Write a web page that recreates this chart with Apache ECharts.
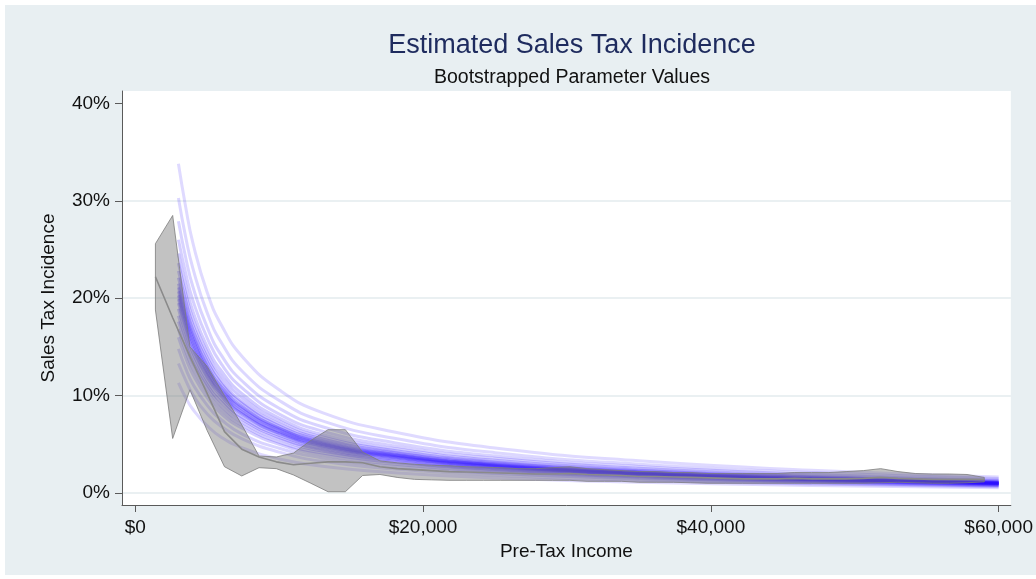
<!DOCTYPE html>
<html>
<head>
<meta charset="utf-8">
<script src="https://cdn.jsdelivr.net/npm/echarts@6/dist/echarts.min.js"></script>
<style>
  html, body { margin: 0; padding: 0; background: #ffffff; }
  #frame { position: absolute; left: 0; top: 0; width: 1036px; height: 579px; background: #ffffff; }
  #chart { position: absolute; left: 5px; top: 5px; width: 1031px; height: 570px; }
</style>
</head>
<body>
<div id="frame"><div id="chart"></div></div>
<script>
// Incomes at which each bootstrapped incidence curve is evaluated
const incomeGrid = [3000, 3500, 4000, 5000, 6000, 7500, 10000, 13000, 18000, 25000, 35000, 47000, 60000];

// One row per bootstrap draw (sorted low to high): sales tax incidence (%) at incomeGrid
const bootstrapDraws = [
  [11.3, 9.8, 8.6, 6.9, 5.7, 4.6, 3.5, 2.75, 2.09, 1.54, 1.10, 0.78, 0.55],
  [13.3, 11.6, 10.1, 8.1, 6.8, 5.5, 4.2, 3.25, 2.47, 1.82, 1.30, 0.92, 0.65],
  [14.8, 12.8, 11.2, 9.0, 7.5, 6.0, 4.6, 3.6, 2.74, 2.02, 1.44, 1.02, 0.72],
  [16.0, 13.9, 12.2, 9.8, 8.1, 6.6, 5.0, 3.9, 2.96, 2.18, 1.56, 1.11, 0.78],
  [16.8, 14.6, 12.8, 10.3, 8.5, 6.9, 5.2, 4.1, 3.12, 2.30, 1.64, 1.16, 0.82],
  [17.6, 15.3, 13.4, 10.8, 8.9, 7.2, 5.5, 4.3, 3.27, 2.41, 1.72, 1.22, 0.86],
  [18.2, 15.8, 13.9, 11.1, 9.3, 7.5, 5.7, 4.45, 3.38, 2.49, 1.78, 1.26, 0.89],
  [18.9, 16.4, 14.4, 11.5, 9.6, 7.7, 5.9, 4.6, 3.50, 2.58, 1.84, 1.31, 0.92],
  [19.5, 16.9, 14.8, 11.9, 9.9, 8.0, 6.1, 4.75, 3.61, 2.66, 1.90, 1.35, 0.95],
  [19.9, 17.3, 15.1, 12.1, 10.1, 8.1, 6.2, 4.85, 3.69, 2.72, 1.94, 1.38, 0.97],
  [20.3, 17.6, 15.4, 12.4, 10.3, 8.3, 6.3, 4.95, 3.76, 2.77, 1.98, 1.41, 0.99],
  [20.7, 18.0, 15.8, 12.6, 10.5, 8.5, 6.5, 5.05, 3.84, 2.83, 2.02, 1.43, 1.01],
  [21.1, 18.3, 16.1, 12.9, 10.7, 8.7, 6.6, 5.15, 3.91, 2.88, 2.06, 1.46, 1.03],
  [21.5, 18.7, 16.4, 13.1, 10.9, 8.8, 6.7, 5.25, 3.99, 2.94, 2.10, 1.49, 1.05],
  [22.1, 19.2, 16.8, 13.5, 11.2, 9.1, 6.9, 5.4, 4.10, 3.02, 2.16, 1.53, 1.08],
  [22.8, 19.8, 17.3, 13.9, 11.5, 9.3, 7.1, 5.55, 4.22, 3.11, 2.22, 1.58, 1.11],
  [23.6, 20.5, 17.9, 14.4, 12.0, 9.7, 7.4, 5.75, 4.37, 3.22, 2.30, 1.63, 1.15],
  [24.6, 21.4, 18.7, 15.0, 12.5, 10.1, 7.7, 6.0, 4.56, 3.36, 2.40, 1.70, 1.20],
  [26.0, 22.6, 19.8, 15.9, 13.2, 10.7, 8.1, 6.35, 4.83, 3.56, 2.54, 1.80, 1.27],
  [27.9, 24.2, 21.2, 17.0, 14.1, 11.4, 8.7, 6.8, 5.17, 3.81, 2.72, 1.93, 1.36],
  [30.3, 26.3, 23.1, 18.5, 15.4, 12.4, 9.5, 7.4, 5.62, 4.14, 2.96, 2.10, 1.48],
  [33.8, 29.4, 25.7, 20.6, 17.2, 13.9, 10.6, 8.25, 6.27, 4.62, 3.30, 2.34, 1.65]
];

// Observed incidence by income bin: median and confidence band (%)
const binIncome = [1400, 2600, 3800, 5000, 6200, 7400, 8600, 9800, 11000, 12200, 13400, 14600, 15800,
  17000, 18200, 19400, 20600, 21800, 23000, 24200, 25400, 26600, 27800, 29000, 30200, 31400, 32600,
  33800, 35000, 36200, 37400, 38600, 39800, 41000, 42200, 43400, 44600, 45800, 47000, 48200, 49400,
  50600, 51800, 53000, 54200, 55400, 56600, 57800, 59000];
const binMedian = [22.2, 18.0, 14.0, 10.2, 6.3, 4.5, 3.7, 3.2, 2.9, 3.05, 3.2, 3.2, 3.1,
  2.7, 2.5, 2.4, 2.3, 2.2, 2.15, 2.1, 2.05, 2.0, 1.95, 1.95, 2.0, 1.9, 1.85,
  1.8, 1.7, 1.7, 1.65, 1.6, 1.55, 1.5, 1.45, 1.45, 1.45, 1.5, 1.45, 1.45, 1.45,
  1.5, 1.6, 1.5, 1.45, 1.4, 1.4, 1.4, 1.4];
const binLower = [18.8, 5.6, 10.6, 6.4, 2.7, 1.75, 2.6, 2.5, 1.85, 1.0, 0.13, 0.13, 1.8,
  1.9, 1.6, 1.4, 1.35, 1.3, 1.3, 1.3, 1.3, 1.3, 1.3, 1.3, 1.3, 1.2, 1.2,
  1.2, 1.1, 1.1, 1.1, 1.05, 1.0, 1.0, 1.0, 1.0, 1.0, 1.0, 1.0, 1.0, 1.0,
  1.0, 1.05, 1.1, 1.05, 1.0, 1.0, 1.05, 1.15];
const binUpper = [25.6, 28.5, 15.0, 13.0, 10.0, 7.0, 3.8, 3.7, 4.1, 5.4, 6.5, 6.5, 4.2,
  3.3, 3.1, 2.95, 2.85, 2.8, 2.7, 2.65, 2.6, 2.5, 2.5, 2.6, 2.7, 2.5, 2.4,
  2.3, 2.2, 2.2, 2.1, 2.1, 2.0, 2.0, 2.0, 2.0, 2.0, 2.1, 2.1, 2.1, 2.2,
  2.3, 2.5, 2.2, 2.0, 1.95, 1.95, 1.9, 1.6];

// Axis ticks
const yTicks = [0, 10, 20, 30, 40];
const xTicks = [0, 20000, 40000, 60000];

const FONT = '"Liberation Sans", Arial, Helvetica, sans-serif';
const chart = echarts.init(document.getElementById('chart'), null, { renderer: 'canvas' });

// Draws near the middle of the sorted set are drawn a little more opaque,
// so the band reads densest where most bootstrap curves fall.
const mid = (bootstrapDraws.length - 1) / 2;
const curveSeries = bootstrapDraws.map(function (vals, k) {
  const d = Math.abs(k - mid) / mid;
  const alpha = (0.31 - 0.16 * d).toFixed(3);
  return {
    name: 'draw' + (k + 1),
    type: 'line',
    data: incomeGrid.map(function (x, i) { return [x, vals[i]]; }),
    showSymbol: false,
    smooth: 0.5,
    silent: true,
    lineStyle: { color: 'rgba(40, 10, 255, ' + alpha + ')', width: 3 },
    z: 2
  };
});

const bandSeries = {
  name: 'band',
  type: 'custom',
  data: binIncome.map(function (x, i) { return [x, binLower[i], binUpper[i]]; }),
  encode: { x: 0, y: [1, 2] },
  silent: true,
  z: 3,
  renderItem: function (params, api) {
    if (params.dataIndex !== 0) return null;
    const pts = [];
    for (let i = 0; i < binIncome.length; i++) pts.push(api.coord([binIncome[i], binUpper[i]]));
    for (let i = binIncome.length - 1; i >= 0; i--) pts.push(api.coord([binIncome[i], binLower[i]]));
    return {
      type: 'polygon',
      shape: { points: pts },
      style: { fill: 'rgba(115, 115, 115, 0.44)', stroke: 'rgba(125, 125, 125, 0.8)', lineWidth: 1 }
    };
  }
};

const medianSeries = {
  name: 'median',
  type: 'line',
  data: binIncome.map(function (x, i) { return [x, binMedian[i]]; }),
  showSymbol: false,
  silent: true,
  lineStyle: { color: '#8a8a8a', width: 1.6 },
  z: 4
};

chart.setOption({
  animation: false,
  backgroundColor: '#e8eff2',
  title: [
    {
      text: 'Estimated Sales Tax Incidence',
      left: 562, top: 22, textAlign: 'center',
      textStyle: { fontFamily: FONT, fontSize: 27, fontWeight: 'normal', color: '#1e2b5e' }
    },
    {
      text: 'Bootstrapped Parameter Values',
      left: 562, top: 58, textAlign: 'center',
      textStyle: { fontFamily: FONT, fontSize: 19.5, fontWeight: 'normal', color: '#111111' }
    }
  ],
  grid: {
    left: 117, right: 23, top: 86, bottom: 70,
    show: true, backgroundColor: '#ffffff', borderWidth: 0
  },
  xAxis: {
    type: 'value',
    min: -922, max: 60846,
    name: 'Pre-Tax Income',
    nameLocation: 'middle',
    nameGap: 34,
    nameTextStyle: { fontFamily: FONT, fontSize: 19, color: '#111111' },
    axisLine: { show: true, onZero: false, lineStyle: { color: '#5a5a5a', width: 1 } },
    axisTick: { show: true, length: 7, customValues: xTicks, lineStyle: { color: '#5a5a5a' } },
    axisLabel: {
      customValues: xTicks, margin: 13,
      fontFamily: FONT, fontSize: 19, color: '#111111',
      formatter: function (v) { return '$' + v.toLocaleString('en-US'); }
    },
    splitLine: { show: false }
  },
  yAxis: {
    type: 'value',
    min: -1.232, max: 41.28,
    name: 'Sales Tax Incidence',
    nameLocation: 'middle',
    nameGap: 64,
    nameTextStyle: { fontFamily: FONT, fontSize: 19, color: '#111111' },
    axisLine: { show: true, onZero: false, lineStyle: { color: '#5a5a5a', width: 1 } },
    axisTick: { show: true, length: 7, customValues: yTicks, lineStyle: { color: '#5a5a5a' } },
    axisLabel: {
      customValues: yTicks, margin: 12,
      fontFamily: FONT, fontSize: 19, color: '#111111',
      formatter: function (v) { return v + '%'; }
    },
    splitLine: {
      show: true,
      lineStyle: { color: ['#e3ebee', '#e3ebee', '#e3ebee', '#e3ebee', 'rgba(0,0,0,0)'], width: 1.5 }
    }
  },
  series: curveSeries.concat([bandSeries, medianSeries])
});
</script>
</body>
</html>
